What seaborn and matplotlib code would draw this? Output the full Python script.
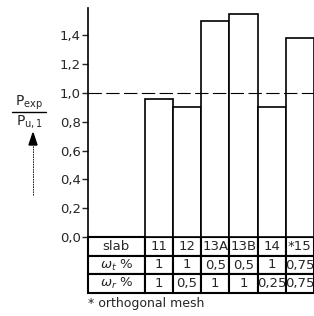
import matplotlib
matplotlib.use("Agg")
import pandas as pd
import seaborn as sns
import matplotlib.pyplot as plt

# Datos
slabs = ["11", "12", "13A", "13B", "14", "*15"]
ratio = [0.96, 0.90, 1.50, 1.55, 0.90, 1.38]
wt = ["1", "1", "0,5", "0,5", "1", "0,75"]
wr = ["1", "0,5", "1", "1", "0,25", "0,75"]
yticks = [0.0, 0.2, 0.4, 0.6, 0.8, 1.0, 1.2, 1.4]

df = pd.DataFrame({"slab": slabs, "ratio": ratio})

sns.set_style("white")
plt.rcParams["font.family"] = ["DejaVu Sans"]

fig = plt.figure(figsize=(3.14, 3.16), dpi=100)
ax = fig.add_axes([88 / 314, 79 / 316, 226 / 314, 229 / 316])

sns.barplot(data=df, x="slab", y="ratio", order=slabs, width=1.0,
            color="white", edgecolor="black", linewidth=1.2, ax=ax)

ax.set_xlim(-2.5, 5.5)
ax.set_ylim(0, 1.59)
# linea de referencia en 1,0 por encima de las barras
ax.axhline(1.0, color="black", linewidth=0.8, linestyle=(0, (12, 4)), zorder=5)

ax.set_yticks(yticks)
ax.set_yticklabels([f"{v:.1f}".replace(".", ",") for v in yticks], fontsize=9.5)
ax.tick_params(axis="y", direction="out", length=4, width=1, pad=1, left=True)
ax.set_xticks([])
ax.set_xlabel("")
ax.set_ylabel("")
for s in ["top", "right", "bottom"]:
    ax.spines[s].set_visible(False)
ax.spines["left"].set_linewidth(1.2)
ax.spines["left"].set_color("black")

# Tabla bajo las barras
rows = [["slab"] + slabs,
        [r"$\omega_t$ %"] + wt,
        [r"$\omega_r$ %"] + wr]
h = 56 / 229
tab = ax.table(cellText=rows, colWidths=[2 / 8] + [1 / 8] * 6,
               cellLoc="center", bbox=[0, -h, 1, h])
tab.auto_set_font_size(False)
tab.set_fontsize(9.5)
for cell in tab.get_celld().values():
    cell.set_linewidth(1.5)
    cell.set_edgecolor("black")
    cell.set_clip_on(False)

fig.text(88 / 314, 1 - 304 / 316, "* orthogonal mesh", fontsize=9,
         va="center", ha="left")

# Etiqueta del eje y
fig.text(29 / 314, 1 - 103 / 316, r"P$_{\mathrm{exp}}$", fontsize=10,
         ha="center", va="center")
fig.text(29 / 314, 1 - 121 / 316, r"P$_{\mathrm{u,1}}$", fontsize=10,
         ha="center", va="center")
fig.add_artist(plt.Line2D([12 / 314, 46 / 314], [1 - 112 / 316, 1 - 112 / 316],
                          color="black", linewidth=1))
fig.add_artist(plt.Line2D([33 / 314, 33 / 314], [1 - 195 / 316, 1 - 145 / 316],
                          color="black", linewidth=0.6, linestyle=(0, (2, 1))))
fig.add_artist(plt.Polygon([[29 / 314, 1 - 145 / 316], [37 / 314, 1 - 145 / 316],
                            [33 / 314, 1 - 133 / 316]], closed=True,
                           color="black"))

fig.savefig("out.png", dpi=100)
